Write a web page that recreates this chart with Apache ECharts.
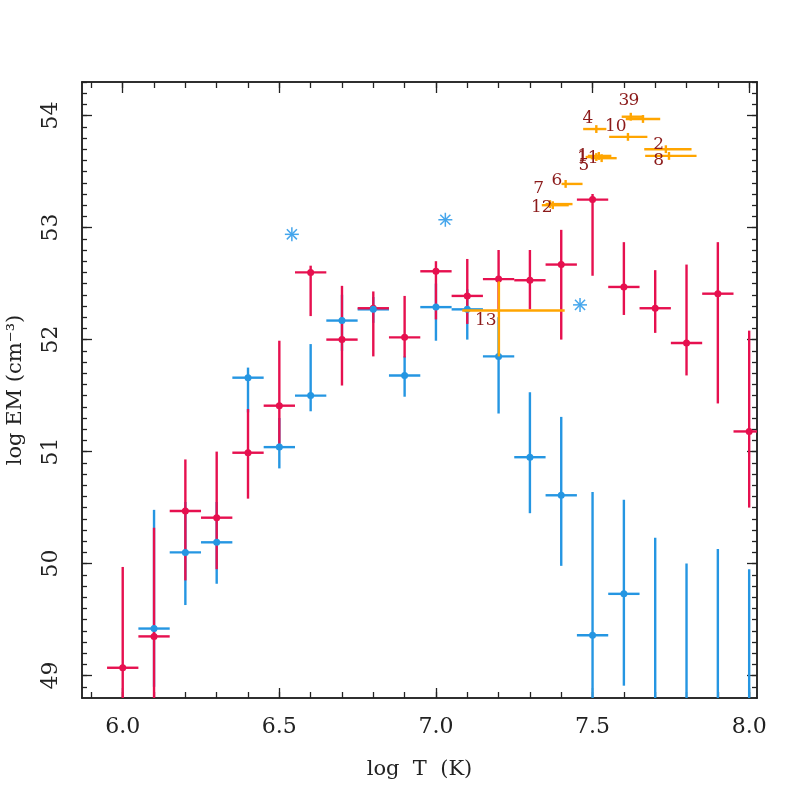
<!DOCTYPE html>
<html>
<head>
<meta charset="utf-8">
<script src="https://cdn.jsdelivr.net/npm/echarts@6/dist/echarts.min.js"></script>
<style>
  html, body { margin: 0; padding: 0; background: #ffffff; }
  #chart { width: 800px; height: 800px; }
</style>
</head>
<body>
<div id="chart"></div>
<script>
// 轴范围
const xMin = 5.870
const xMax = 8.025
const yMin = 48.80
const yMax = 54.30

// 刻度
const xMajor = [6.0, 6.5, 7.0, 7.5, 8.0]
const yMajor = [49, 50, 51, 52, 53, 54]

// 红色 (log T, log EM, 下限, 上限)
const redT = [6.0, 6.1, 6.2, 6.3, 6.4, 6.5, 6.6, 6.7, 6.8, 6.9, 7.0, 7.1, 7.2, 7.3, 7.4, 7.5, 7.6, 7.7, 7.8, 7.9, 8.0]
const redEM = [49.07, 49.35, 50.47, 50.41, 50.99, 51.41, 52.60, 52.00, 52.28, 52.02, 52.61, 52.39, 52.54, 52.53, 52.67, 53.25, 52.47, 52.28, 51.97, 52.41, 51.18]
const redLo = [48.30, 48.20, 49.85, 49.95, 50.58, 51.07, 52.21, 51.59, 51.85, 51.84, 52.18, 52.14, 52.25, 52.27, 52.00, 52.57, 52.22, 52.06, 51.68, 51.43, 50.50]
const redHi = [49.97, 50.32, 50.93, 51.00, 51.38, 51.99, 52.66, 52.48, 52.43, 52.39, 52.70, 52.72, 52.80, 52.80, 52.98, 53.30, 52.87, 52.62, 52.67, 52.87, 52.08]

// 蓝色
const blueT = [6.1, 6.2, 6.3, 6.4, 6.5, 6.6, 6.7, 6.8, 6.9, 7.0, 7.1, 7.2, 7.3, 7.4, 7.5, 7.6, 7.7, 7.8, 7.9, 8.0]
const blueEM = [49.42, 50.10, 50.19, 51.66, 51.04, 51.50, 52.17, 52.27, 51.68, 52.29, 52.27, 51.85, 50.95, 50.61, 49.36, 49.73, 48.50, 48.40, 48.50, 48.40]
const blueLo = [48.90, 49.63, 49.82, 51.35, 50.85, 51.36, 51.90, 52.15, 51.49, 51.99, 52.00, 51.34, 50.45, 49.98, 48.30, 48.91, 47.50, 47.50, 47.50, 47.50]
const blueHi = [50.48, 50.55, 50.55, 51.75, 51.30, 51.96, 52.40, 52.38, 51.85, 52.50, 52.45, 52.20, 51.53, 51.31, 50.64, 50.57, 50.23, 50.00, 50.13, 49.95]

// 星号
const starT = [6.54, 7.03, 7.46]
const starEM = [52.94, 53.07, 52.31]

// 橙色 (编号, 中心, 横向范围, 纵向范围)
const flareId = ['3', '9', '4', '10', '2', '8', '1', '11', '5', '6', '7', '12', '13']
const flareT = [7.622, 7.661, 7.512, 7.613, 7.734, 7.744, 7.512, 7.529, 7.520, 7.414, 7.364, 7.373, 7.201]
const flareEM = [53.99, 53.97, 53.88, 53.81, 53.70, 53.64, 53.63, 53.62, 53.64, 53.39, 53.21, 53.20, 52.26]
const flareTLo = [7.593, 7.606, 7.470, 7.553, 7.665, 7.668, 7.478, 7.494, 7.485, 7.401, 7.350, 7.338, 7.084]
const flareTHi = [7.659, 7.716, 7.544, 7.675, 7.816, 7.832, 7.545, 7.577, 7.560, 7.468, 7.436, 7.424, 7.411]
const flareEMLo = [53.955, 53.935, 53.845, 53.775, 53.665, 53.605, 53.595, 53.585, 53.605, 53.355, 53.175, 53.165, 51.85]
const flareEMHi = [54.025, 54.005, 53.915, 53.845, 53.735, 53.675, 53.665, 53.655, 53.675, 53.425, 53.245, 53.235, 52.52]

// 编号文字位置
const tagT = [7.600, 7.632, 7.485, 7.574, 7.711, 7.711, 7.469, 7.485, 7.472, 7.386, 7.328, 7.338, 7.159]
const tagEM = [54.13, 54.13, 53.97, 53.90, 53.74, 53.60, 53.63, 53.62, 53.55, 53.42, 53.35, 53.18, 52.17]

const RED = '#e6104f'
const BLUE = '#2596e2'
const STAR = '#45a6ec'
const ORANGE = '#ffa500'
const TAG = '#8b1a1a'
const AXIS = '#222222'
const FONT = 'DejaVu Serif'

// 次刻度
const xMinor = []
for (let v = 59; v <= 80; v++) xMinor.push(v / 10)
const yMinor = []
for (let v = 489; v <= 543; v++) yMinor.push(v / 10)

const myChart = echarts.init(document.getElementById('chart'))

// 误差棒
const errBar = (color, halfW) => (params, api) => {
  const x = api.value(0)
  const y = api.value(1)
  const c = api.coord([x, y])
  const l = api.coord([x - halfW, y])
  const r = api.coord([x + halfW, y])
  const b = api.coord([x, api.value(2)])
  const t = api.coord([x, api.value(3)])
  const style = { stroke: color, lineWidth: 2.4 }
  return {
    type: 'group',
    children: [
      { type: 'line', shape: { x1: l[0], y1: c[1], x2: r[0], y2: c[1] }, style },
      { type: 'line', shape: { x1: c[0], y1: t[1], x2: c[0], y2: b[1] }, style }
    ]
  }
}

// 橙色横条
const flareBar = (params, api) => {
  const y = api.value(1)
  const c = api.coord([api.value(0), y])
  const l = api.coord([api.value(2), y])
  const r = api.coord([api.value(3), y])
  const b = api.coord([api.value(0), api.value(4)])
  const t = api.coord([api.value(0), api.value(5)])
  const style = { stroke: ORANGE, lineWidth: 2.4 }
  return {
    type: 'group',
    children: [
      { type: 'line', shape: { x1: l[0], y1: c[1], x2: r[0], y2: c[1] }, style },
      { type: 'line', shape: { x1: c[0], y1: t[1], x2: c[0], y2: b[1] }, style }
    ]
  }
}

// 星号
const starMark = (params, api) => {
  const c = api.coord([api.value(0), api.value(1)])
  const s = 7
  const d = s * 0.72
  const style = { stroke: STAR, lineWidth: 1.5 }
  return {
    type: 'group',
    children: [
      { type: 'line', shape: { x1: c[0] - s, y1: c[1], x2: c[0] + s, y2: c[1] }, style },
      { type: 'line', shape: { x1: c[0], y1: c[1] - s, x2: c[0], y2: c[1] + s }, style },
      { type: 'line', shape: { x1: c[0] - d, y1: c[1] - d, x2: c[0] + d, y2: c[1] + d }, style },
      { type: 'line', shape: { x1: c[0] - d, y1: c[1] + d, x2: c[0] + d, y2: c[1] - d }, style }
    ]
  }
}

// 编号
const tagText = (params, api) => {
  const c = api.coord([api.value(0), api.value(1)])
  return {
    type: 'text',
    x: c[0],
    y: c[1],
    style: {
      text: flareId[params.dataIndex],
      fill: TAG,
      fontFamily: FONT,
      fontSize: 17,
      align: 'center',
      verticalAlign: 'middle'
    }
  }
}

const baseX = {
  type: 'value', min: xMin, max: xMax,
  splitLine: { show: false },
  axisLine: { show: true, onZero: false, lineStyle: { color: AXIS, width: 1.5 } },
  axisLabel: { show: false }
}
const baseY = {
  type: 'value', min: yMin, max: yMax,
  splitLine: { show: false },
  axisLine: { show: true, onZero: false, lineStyle: { color: AXIS, width: 1.5 } },
  axisLabel: { show: false }
}
const tick = (vals, len) => ({ show: true, inside: true, length: len, customValues: vals, lineStyle: { color: AXIS, width: 1.3 } })

const options = {
  animation: false,
  backgroundColor: '#ffffff',
  grid: { left: 82, right: 43, top: 82, bottom: 102, outerBoundsMode: 'none', containLabel: false },
  xAxis: [
    {
      ...baseX,
      position: 'bottom',
      axisTick: tick(xMajor, 10),
      axisLabel: {
        show: true, customValues: xMajor, margin: 18,
        formatter: v => v.toFixed(1),
        fontFamily: FONT, fontSize: 22, color: AXIS
      },
      name: 'log  T  (K)',
      nameLocation: 'middle',
      nameGap: 61,
      nameTextStyle: { fontFamily: FONT, fontSize: 21, color: AXIS }
    },
    { ...baseX, position: 'bottom', axisTick: tick(xMinor, 6) },
    { ...baseX, position: 'top', axisTick: tick(xMajor, 11) },
    { ...baseX, position: 'top', axisTick: tick(xMinor, 6) }
  ],
  yAxis: [
    {
      ...baseY,
      position: 'left',
      axisTick: tick(yMajor, 10),
      axisLabel: {
        show: true, customValues: yMajor, margin: 20, rotate: 90,
        formatter: v => String(Math.round(v)),
        fontFamily: FONT, fontSize: 22, color: AXIS
      },
      name: 'log EM (cm⁻³)',
      nameLocation: 'middle',
      nameGap: 56,
      nameTextStyle: { fontFamily: FONT, fontSize: 21, color: AXIS }
    },
    { ...baseY, position: 'left', axisTick: tick(yMinor, 5) },
    { ...baseY, position: 'right', axisTick: tick(yMajor, 10) },
    { ...baseY, position: 'right', axisTick: tick(yMinor, 5) }
  ],
  series: [
    {
      type: 'custom', name: 'blue', clip: true, z: 2,
      renderItem: errBar(BLUE, 0.05),
      encode: { x: 0, y: 1 },
      data: blueT.map((t, i) => [t, blueEM[i], blueLo[i], blueHi[i]])
    },
    {
      type: 'custom', name: 'red', clip: true, z: 3,
      renderItem: errBar(RED, 0.05),
      encode: { x: 0, y: 1 },
      data: redT.map((t, i) => [t, redEM[i], redLo[i], redHi[i]])
    },
    {
      type: 'scatter', name: 'redDot', z: 4, symbol: 'circle', symbolSize: 7,
      itemStyle: { color: RED, opacity: 1 },
      data: redT.map((t, i) => [t, redEM[i]])
    },
    {
      type: 'scatter', name: 'blueDot', z: 5, symbol: 'circle', symbolSize: 7,
      itemStyle: { color: BLUE, opacity: 1 },
      data: blueT.map((t, i) => [t, blueEM[i]])
    },
    {
      type: 'custom', name: 'star', clip: true, z: 6,
      renderItem: starMark,
      encode: { x: 0, y: 1 },
      data: starT.map((t, i) => [t, starEM[i]])
    },
    {
      type: 'custom', name: 'flare', clip: true, z: 7,
      renderItem: flareBar,
      encode: { x: 0, y: 1 },
      data: flareT.map((t, i) => [t, flareEM[i], flareTLo[i], flareTHi[i], flareEMLo[i], flareEMHi[i]])
    },
    {
      type: 'custom', name: 'tag', z: 8,
      renderItem: tagText,
      encode: { x: 0, y: 1 },
      data: tagT.map((t, i) => [t, tagEM[i]])
    }
  ]
}
myChart.setOption(options)
</script>
</body>
</html>
